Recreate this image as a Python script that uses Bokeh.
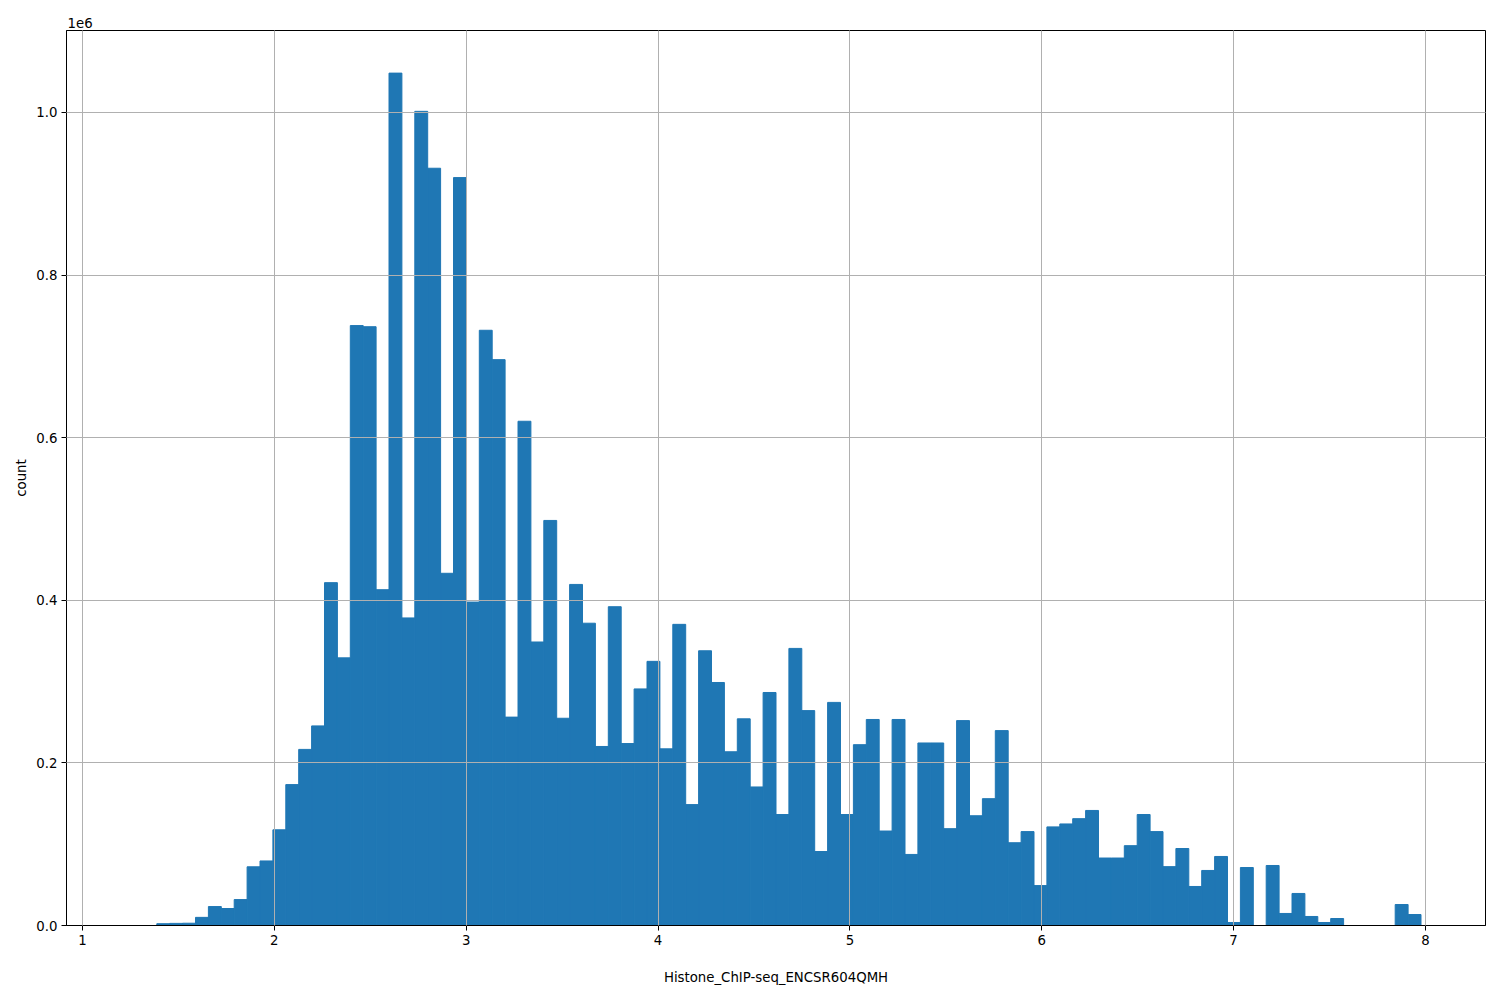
import numpy as np
from bokeh.plotting import figure
from bokeh.models import Range1d, ColumnDataSource, FixedTicker, CustomJSTickFormatter
from bokeh.embed import file_html
from bokeh.resources import INLINE

# ---- data ----
bin_min = 1.2528
bin_max = 7.9768
n_bins = 100
counts = [
    0, 0, 2200, 2600, 2800, 10000, 23300, 20900, 31900, 72200,
    79400, 117700, 173300, 216600, 245500, 421700, 329200, 737900, 736500, 413000,
    1048400, 378300, 1001400, 931400, 433200, 919900, 397800, 732100, 696000, 256300,
    620200, 348700, 498200, 254900, 419500, 371800, 220200, 392100, 223800, 291000,
    324900, 217300, 370400, 148700, 337900, 298900, 213700, 254200, 170400, 286600,
    136500, 340800, 264300, 91000, 274400, 136500, 222400, 253400, 116200, 253400,
    87400, 224500, 224500, 119100, 252000, 135000, 156000, 239700, 101800, 115500,
    49100, 121300, 124900, 131400, 141500, 83000, 83000, 98200, 136500, 115500,
    72400, 94700, 48000, 67700, 84900, 3700, 71300, 0, 73800, 14800,
    39400, 11100, 3700, 8600, 0, 0, 0, 0, 25800, 13500,
]
x_ticks = [1, 2, 3, 4, 5, 6, 7, 8]
y_ticks = [0, 200000, 400000, 600000, 800000, 1000000]
x_label = "Histone_ChIP-seq_ENCSR604QMH"
y_label = "count"
offset_text = "1e6"

edges = np.linspace(bin_min, bin_max, n_bins + 1)
src = ColumnDataSource(dict(left=edges[:-1], right=edges[1:], top=counts, bottom=[0] * n_bins))

span = bin_max - bin_min
x0, x1 = bin_min - 0.05 * span, bin_max + 0.05 * span
y1 = max(counts) * 1.05

FONT = "DejaVu Sans"
FS = "13.3px"

p = figure(
    frame_width=1419, frame_height=895,
    x_range=Range1d(x0, x1), y_range=Range1d(0, y1),
    output_backend="svg", toolbar_location=None,
    min_border_left=66, min_border_top=30, min_border_right=15, min_border_bottom=75,
    title=offset_text,
)
p.title.text_font = FONT
p.title.text_font_size = FS
p.title.text_font_style = "normal"
p.title.text_color = "black"
p.title.align = "left"
p.title.offset = 1
p.title.standoff = 5

p.background_fill_color = "white"
p.border_fill_color = "white"
p.outline_line_color = "black"
p.outline_line_width = 1
p.outline_line_alpha = 1

p.quad(left="left", right="right", top="top", bottom="bottom", source=src,
       fill_color="#1f77b4", line_color="#1f77b4", line_width=1)

for g in (p.xgrid, p.ygrid):
    g.grid_line_color = "#b0b0b0"
    g.grid_line_width = 1
    g.level = "overlay"
p.xgrid.ticker = FixedTicker(ticks=x_ticks)
p.ygrid.ticker = FixedTicker(ticks=y_ticks)

p.xaxis.ticker = FixedTicker(ticks=x_ticks)
p.yaxis.ticker = FixedTicker(ticks=y_ticks)
p.yaxis.formatter = CustomJSTickFormatter(code="return (tick/1e6).toFixed(1);")

for ax in (p.xaxis[0], p.yaxis[0]):
    ax.axis_line_color = "black"
    ax.axis_line_width = 1
    ax.major_tick_line_color = "black"
    ax.major_tick_in = 0
    ax.major_tick_out = 5
    ax.minor_tick_line_color = None
    ax.major_label_text_font = FONT
    ax.major_label_text_font_size = FS
    ax.major_label_text_color = "black"
    ax.major_label_standoff = 4
    ax.axis_label_text_font = FONT
    ax.axis_label_text_font_size = FS
    ax.axis_label_text_font_style = "normal"
    ax.axis_label_text_color = "black"

p.xaxis.axis_label = x_label
p.yaxis.axis_label = y_label
p.xaxis.axis_label_standoff = 22
p.yaxis.axis_label_standoff = 4

open("out.html", "w").write(file_html(p, INLINE))
